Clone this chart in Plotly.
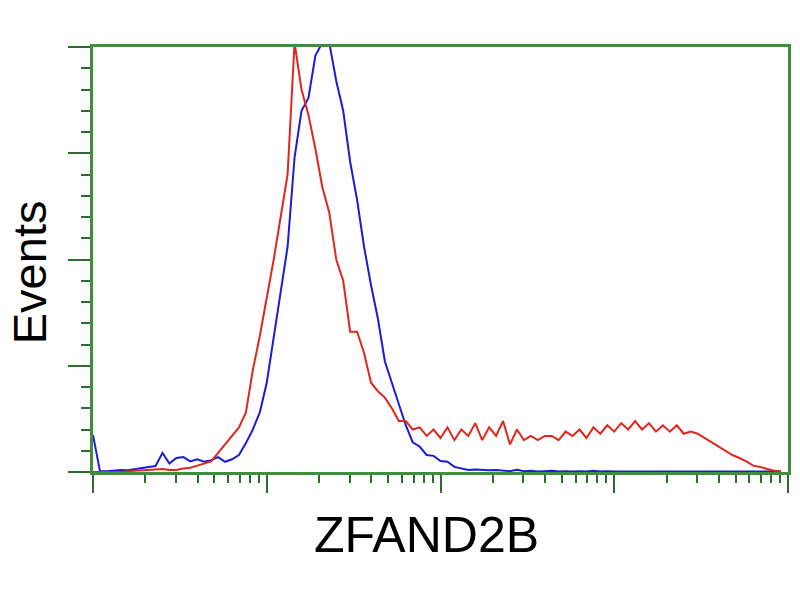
import plotly.graph_objects as go

# Histogram bin positions (log10 of fluorescence intensity)
bin_log = [
    0.00, 0.04, 0.08, 0.12, 0.16, 0.20, 0.24, 0.28, 0.32, 0.36,
    0.40, 0.44, 0.48, 0.52, 0.56, 0.60, 0.64, 0.68, 0.72, 0.76,
    0.80, 0.84, 0.88, 0.92, 0.96, 1.00, 1.04, 1.08, 1.12, 1.16,
    1.20, 1.24, 1.28, 1.32, 1.36, 1.40, 1.44, 1.48, 1.52, 1.56,
    1.60, 1.64, 1.68, 1.72, 1.76, 1.80, 1.84, 1.88, 1.92, 1.96,
    2.00, 2.04, 2.08, 2.12, 2.16, 2.20, 2.24, 2.28, 2.32, 2.36,
    2.40, 2.44, 2.48, 2.52, 2.56, 2.60, 2.64, 2.68, 2.72, 2.76,
    2.80, 2.84, 2.88, 2.92, 2.96, 3.00, 3.04, 3.08, 3.12, 3.16,
    3.20, 3.24, 3.28, 3.32, 3.36, 3.40, 3.44, 3.48, 3.52, 3.56,
    3.60, 3.64, 3.68, 3.72, 3.76, 3.80, 3.84, 3.88, 3.92, 3.96,
]

# Red histogram (events, % of full scale)
red_counts = [
    0.0, 0.0, 0.0, 0.0, 0.0, 0.2, 0.3, 0.3, 0.5, 0.5,
    0.7, 0.5, 0.5, 0.8, 1.0, 1.5, 2.0, 2.5, 4.5, 6.5,
    8.5, 10.5, 14.0, 24.0, 32.0, 41.0, 50.0, 60.0, 70.0, 101.0,
    90.0, 84.0, 76.0, 67.0, 61.0, 50.0, 45.0, 33.0, 33.0, 28.0,
    21.0, 19.0, 17.5, 15.0, 12.0, 12.0, 10.0, 10.5, 8.5, 10.0,
    8.0, 10.5, 7.5, 10.0, 8.5, 11.5, 7.5, 10.5, 8.5, 12.0,
    6.5, 10.0, 7.5, 8.5, 7.5, 8.5, 8.5, 7.5, 9.5, 8.5,
    10.0, 8.0, 10.5, 9.0, 11.0, 9.5, 11.5, 10.0, 12.0, 10.0,
    11.5, 9.5, 11.0, 9.5, 11.0, 9.0, 9.5, 9.0, 8.0, 7.0,
    6.0, 5.0, 4.0, 3.3, 2.5, 1.5, 1.2, 0.7, 0.3, 0.2,
]

# Blue histogram (events, % of full scale)
blue_counts = [
    8.7, 0.2, 0.2, 0.3, 0.5, 0.4, 0.7, 0.9, 1.2, 1.4,
    4.5, 2.0, 3.3, 3.5, 2.5, 3.0, 2.4, 2.8, 3.5, 2.4,
    3.0, 4.0, 6.8, 10.0, 14.0, 21.0, 32.0, 42.0, 53.0, 74.0,
    85.0, 88.0, 98.0, 101.0, 101.0, 92.0, 85.0, 73.0, 64.0, 53.0,
    44.0, 36.0, 26.0, 21.0, 16.0, 11.0, 7.0, 6.0, 4.0, 3.8,
    2.6, 2.4, 1.2, 0.8, 0.5, 0.6, 0.5, 0.4, 0.5, 0.3,
    0.2, 0.5, 0.2, 0.3, 0.1, 0.2, 0.3, 0.1, 0.2, 0.1,
    0.2, 0.1, 0.3, 0.1, 0.2, 0.1, 0.1, 0.2, 0.1, 0.1,
    0.2, 0.1, 0.1, 0.2, 0.1, 0.1, 0.1, 0.2, 0.1, 0.1,
    0.1, 0.1, 0.1, 0.1, 0.1, 0.1, 0.1, 0.1, 0.1, 0.1,
]

x_major = [1, 10, 100, 1000, 10000]
x_minor = [m * d for d in [1, 10, 100, 1000] for m in [2, 3, 4, 5, 6, 7, 8, 9]]

x_title = "ZFAND2B"
y_title = "Events"

x_vals = [10 ** v for v in bin_log]

GREEN = "#3f8f3f"
TICK = "#2f6a2f"

fig = go.Figure()
fig.add_trace(go.Scatter(x=x_vals, y=blue_counts, mode="lines",
                         line=dict(color="#1c1cd8", width=2), showlegend=False))
fig.add_trace(go.Scatter(x=x_vals, y=red_counts, mode="lines",
                         line=dict(color="#e0261e", width=2), showlegend=False))

fig.update_layout(
    width=800, height=600,
    margin=dict(l=93, r=9, t=47, b=128),
    paper_bgcolor="white", plot_bgcolor="white",
    showlegend=False,
    xaxis=dict(
        type="log", range=[0, 4], showgrid=False, zeroline=False,
        showline=True, linecolor=GREEN, linewidth=3, mirror=True,
        tickmode="array", tickvals=x_major, showticklabels=False,
        ticks="outside", ticklen=18, tickwidth=2, tickcolor=TICK,
        minor=dict(tickmode="array", tickvals=x_minor, ticks="outside",
                   ticklen=8, tickwidth=2, tickcolor=TICK, showgrid=False),
    ),
    yaxis=dict(
        range=[0, 100], showgrid=False, zeroline=False,
        showline=True, linecolor=GREEN, linewidth=3, mirror=True,
        tickmode="linear", tick0=0, dtick=25, showticklabels=False,
        ticks="outside", ticklen=22, tickwidth=2, tickcolor=TICK,
        minor=dict(tickmode="linear", tick0=0, dtick=5, ticks="outside",
                   ticklen=9, tickwidth=2, tickcolor=TICK, showgrid=False),
    ),
    annotations=[
        dict(text=y_title, xref="paper", yref="paper", x=-0.0903, y=0.4706,
             showarrow=False, textangle=-90, xanchor="center", yanchor="middle",
             font=dict(family="Liberation Sans, Arial, sans-serif", size=47, color="black")),
        dict(text=x_title, xref="paper", yref="paper", x=0.48, y=-0.148,
             showarrow=False, xanchor="center", yanchor="middle",
             font=dict(family="Liberation Sans, Arial, sans-serif", size=50, color="black")),
    ],
)

fig.write_html("out.html", config={"displayModeBar": False},
               post_script="document.body.style.margin='0';")
